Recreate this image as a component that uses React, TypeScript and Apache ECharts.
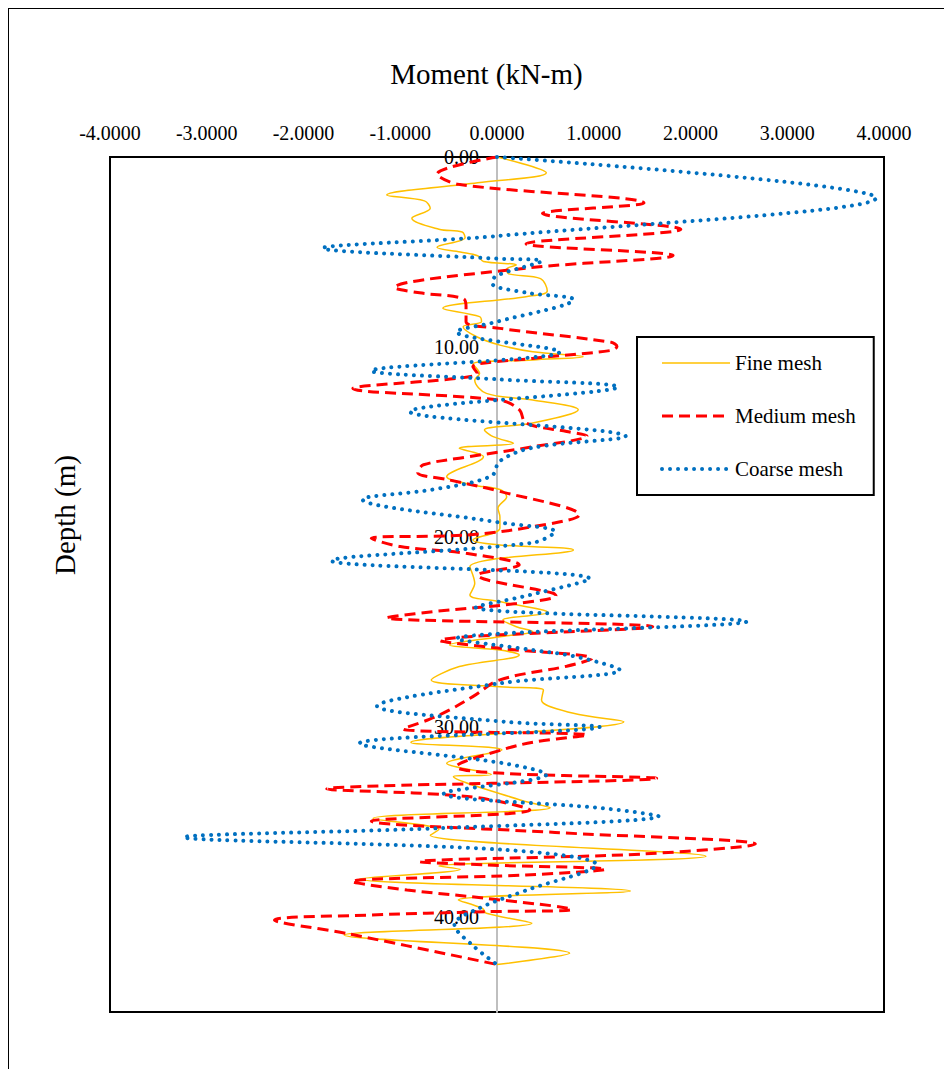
import React, { useEffect, useRef } from "react";
import * as echarts from "echarts";

// Depth (m) and bending moment (kN-m) along the pile for each mesh density
const fineDepth = [
  0, 0.83, 1.36, 2.0, 2.31, 2.7, 3.22, 3.8, 3.95, 4.25, 4.75, 5.0, 5.2, 5.5, 5.68, 5.9, 6.15, 6.4,
  7.05, 7.35, 7.96, 8.4, 8.67, 8.93, 9.46, 9.9, 10.25, 10.51, 10.68, 10.9, 11.4, 11.74, 12.44,
  12.79, 13.3, 14.0, 14.37, 14.72, 15.07, 15.33, 15.77, 16.82, 17.26, 17.5, 17.88, 18.49, 18.93,
  19.54, 20.16, 20.42, 20.68, 21.56, 22.44, 23.05, 23.4, 23.98, 24.37, 24.72, 24.98, 25.25, 25.68,
  25.95, 26.21, 26.82, 27.53, 27.88, 28.05, 28.58, 29.28, 29.72, 30.81, 31.21, 31.91, 32.5, 32.61,
  33.84, 34.25, 34.81, 35.4, 35.7, 36.8, 37.32, 37.49, 38.0, 38.63, 39.1, 39.55, 39.8, 40.33,
  40.95, 41.91, 42.5,
];
const fineMoment = [
  0, 0.51, -0.2, -1.14, -0.75, -0.69, -0.88, -0.6, -0.36, -0.33, -0.62, -0.38, -0.2, -0.14, 0.2,
  0.1, 0.12, 0.45, 0.52, 0.3, -0.56, -0.18, -0.16, -0.35, -0.21, 0.03, 0.37, 0.89, 0.37, -0.25,
  -0.18, -0.23, -0.11, 0.37, 0.84, 0.37, -0.13, -0.04, 0.17, -0.39, -0.14, -0.52, -0.25, 0.03,
  0.1, 0.01, 0.03, 0.03, -0.25, 0.03, 0.79, -0.28, -0.23, -0.28, 0.03, 0.53, 0.06, 0.2, 0.37,
  0.03, -0.49, 0.03, 0.23, -0.39, -0.68, 0.03, 0.48, 0.46, 0.79, 1.31, -0.89, 0.05, -0.52, -0.06,
  -0.45, 0.24, 0.55, -1.28, -0.6, -0.69, 2.16, -0.6, -0.38, -1.42, 1.38, -0.4, -0.15, -0.11, 0.36,
  -1.58, 0.75, 0,
];

const mediumDepth = [
  0, 0.9, 1.44, 2.42, 2.97, 3.8, 4.57, 5.18, 5.85, 6.88, 7.15, 7.45, 7.9, 8.67, 9.02, 9.75, 9.97,
  10.18, 10.6, 11.04, 11.4, 12.18, 12.8, 13.3, 14.0, 14.45, 14.68, 15.25, 15.8, 16.2, 16.6, 17.0,
  17.6, 18.84, 19.46, 19.9, 20.07, 20.5, 20.86, 21.47, 22.0, 22.96, 23.1, 23.5, 23.93, 24.25,
  24.72, 25.45, 25.86, 26.4, 26.8, 27.52, 28.4, 29.1, 29.6, 30.1, 30.42, 30.77, 31.17, 32.09,
  32.44, 32.7, 33.26, 33.67, 34.37, 34.95, 35.55, 36.16, 36.68, 37.09, 37.26, 37.49, 37.79,
  38.14, 38.58, 39.02, 39.6, 39.72, 39.9, 40.16, 40.88, 42.5,
];
const mediumMoment = [
  0, -0.62, -0.4, 1.52, 0.47, 1.9, 0.3, 1.82, 0.3, -1.06, -0.8, -0.35, -0.32, -0.32, 0.03, 1.18,
  1.24, 1.18, 0.37, -0.25, -0.2, -1.49, 0.03, 0.23, 0.3, 0.72, 0.93, 0.37, -0.32, -0.76, -0.82,
  -0.49, 0.03, 0.85, 0.37, -0.32, -1.3, -1.0, -0.32, 0.23, -0.2, 0.58, 0.61, 0.2, -0.66, -1.14,
  1.61, -0.59, 0.03, 0.98, 0.72, 0.03, -0.25, -0.49, -0.7, -0.97, 0.93, 0.41, 0.07, -0.42, 0.07,
  1.65, -1.76, -0.28, 0.34, -1.3, 0.6, 2.67, 1.52, -0.8, -0.11, 1.12, 0.3, -1.5, -0.93, -0.11,
  0.77, -0.11, -1.34, -2.3, -1.54, 0,
];

const coarseDepth = [
  0, 2.15, 4.16, 4.8, 5.35, 5.47, 6.26, 6.65, 7.14, 7.5, 8.67, 9.2, 10.25, 11.25, 11.7, 12.1,
  13.4, 14.7, 15.3, 16.0, 16.8, 17.5, 18.02, 19.24, 19.72, 20.3, 21.25, 22.2, 23.05, 23.7, 24.45,
  25.35, 25.95, 26.3, 27.0, 27.7, 28.9, 29.72, 30.0, 30.86, 31.91, 32.5, 33.5, 34.28, 34.7, 35.33,
  35.8, 36.47, 37.26, 38.6, 39.55, 40.4, 41.5, 42.5,
];
const coarseMoment = [
  0, 3.92, 0, -1.8, 0, 0.46, -0.01, -0.05, 0.3, 0.79, 0, -0.42, 0.65, -1.3, 0, 1.25, -0.9, 1.33,
  0.37, 0.03, -0.06, -0.66, -1.39, 0.03, 0.6, 0.37, -1.71, 0.96, 0.34, -0.22, 2.58, -0.42, 0.37,
  0.82, 1.27, 0.03, -1.24, 0.07, 1.06, -1.42, 0.07, 0.51, -0.55, 1.1, 1.67, -0.62, -3.24, 0.09,
  1.03, 0.3, -0.19, -0.44, -0.25, 0,
];

const momentTicks = [-4, -3, -2, -1, 0, 1, 2, 3, 4];
const depthTicks = [0, 10, 20, 30, 40];
const depthMax = 45;

const serif = "'Times New Roman', 'Liberation Serif', serif";

const fineLine = { color: "#FFC000", width: 1.5 };
const mediumLine = { color: "#FF0000", width: 3, type: [11, 6] };
const coarseLine = { color: "#0070C0", width: 4, type: [0.01, 8], cap: "round" };

const gridLeft = 101;
const gridWidth = 774;
// depth labels sit beside the vertical zero line, inside the plot
const zeroOffset =
  (gridWidth * (0 - momentTicks[0])) / (momentTicks[momentTicks.length - 1] - momentTicks[0]);

const toPairs = (depth: number[], moment: number[]) => depth.map((d, i) => [moment[i], d]);

export default function App() {
  const ref = useRef<HTMLDivElement>(null);

  useEffect(() => {
    if (!ref.current) return;
    const chart = echarts.init(ref.current, null, { renderer: "svg" });
    chart.setOption({
      animation: false,
      backgroundColor: "#fff",
      grid: {
        left: gridLeft,
        top: 148,
        width: gridWidth,
        height: 855,
        show: true,
        borderColor: "#000",
        borderWidth: 2,
        backgroundColor: "transparent",
      },
      xAxis: {
        type: "value",
        position: "top",
        min: momentTicks[0],
        max: momentTicks[momentTicks.length - 1],
        interval: 1,
        axisLine: { show: false, onZero: false },
        axisTick: { show: false },
        splitLine: { show: false },
        axisLabel: {
          margin: 14,
          fontFamily: serif,
          fontSize: 20,
          color: "#000",
          formatter: (v: number) => v.toFixed(4),
        },
      },
      yAxis: {
        type: "value",
        inverse: true,
        min: depthTicks[0],
        max: depthMax,
        interval: 10,
        axisLine: { show: true, onZero: true, lineStyle: { color: "#BFBFBF", width: 2 } },
        axisTick: { show: false },
        splitLine: { show: false },
        axisLabel: {
          margin: 18 - zeroOffset,
          fontFamily: serif,
          fontSize: 20,
          color: "#000",
          formatter: (v: number) => (depthTicks.includes(v) ? v.toFixed(2) : ""),
        },
      },
      legend: {
        orient: "vertical",
        left: 628,
        top: 328,
        padding: [14, 18, 14, 23],
        itemGap: 29,
        itemWidth: 68,
        itemHeight: 14,
        borderColor: "#000",
        borderWidth: 2,
        backgroundColor: "#fff",
        itemStyle: { opacity: 0, color: "transparent", borderColor: "transparent", borderWidth: 0 },
        textStyle: { fontFamily: serif, fontSize: 21, color: "#000", lineHeight: 24 },
        data: [
          { name: "Fine mesh", lineStyle: fineLine },
          { name: "Medium mesh", lineStyle: mediumLine },
          { name: "Coarse mesh", lineStyle: coarseLine },
        ],
      },
      graphic: [
        {
          type: "text",
          x: 477.5,
          y: 65,
          style: {
            text: "Moment (kN-m)",
            fontFamily: serif,
            fontSize: 29,
            fill: "#000",
            align: "center",
            verticalAlign: "middle",
          },
        },
        {
          type: "text",
          x: 56,
          y: 506,
          rotation: Math.PI / 2,
          style: {
            text: "Depth (m)",
            fontFamily: serif,
            fontSize: 29,
            fill: "#000",
            align: "center",
            verticalAlign: "middle",
          },
        },
      ],
      series: [
        {
          name: "Fine mesh",
          type: "line",
          data: toPairs(fineDepth, fineMoment),
          smooth: 0.35,
          symbol: "none",
          lineStyle: fineLine,
          itemStyle: { color: fineLine.color },
        },
        {
          name: "Medium mesh",
          type: "line",
          data: toPairs(mediumDepth, mediumMoment),
          smooth: 0.35,
          symbol: "none",
          lineStyle: mediumLine,
          itemStyle: { color: mediumLine.color },
        },
        {
          name: "Coarse mesh",
          type: "line",
          data: toPairs(coarseDepth, coarseMoment),
          smooth: 0.35,
          symbol: "none",
          lineStyle: coarseLine,
          itemStyle: { color: coarseLine.color },
        },
      ],
    });
    return () => chart.dispose();
  }, []);

  return (
    <div
      ref={ref}
      style={{
        width: 943,
        height: 1060,
        borderLeft: "1px solid #000",
        borderTop: "1px solid #000",
        background: "#fff",
      }}
    />
  );
}
